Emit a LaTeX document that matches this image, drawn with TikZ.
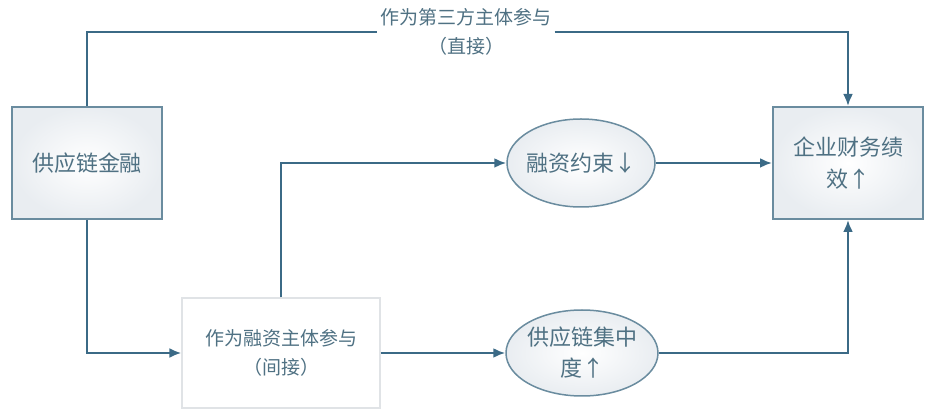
\documentclass[tikz,border=0pt]{standalone}
\usepackage{fontspec}
\setmainfont{Noto Sans CJK SC}
\usetikzlibrary{arrows.meta,shapes.geometric}
\definecolor{lineblue}{HTML}{3B6A86}
\definecolor{boxedge}{HTML}{6A8C9F}
\definecolor{txt}{HTML}{4F7183}
\definecolor{boxfill}{HTML}{E9EDF1}
\definecolor{paleedge}{HTML}{E0E3E6}
\tikzset{
  conn/.style={draw=lineblue, line width=2.3pt},
  arr/.style={conn, -{Latex[length=12pt,width=10pt]}},
  mainbox/.style={draw=boxedge, line width=2pt, inner color=white, outer color=boxfill, text=txt, align=center, font=\fontsize{22}{32}\selectfont},
  midbox/.style={draw=paleedge, line width=1.2pt, fill=white, text=txt, align=center, font=\fontsize{19}{29}\selectfont},
  oval/.style={ellipse, draw=boxedge, line width=1.5pt, inner color=white, outer color=boxfill, text=txt, align=center, font=\fontsize{22}{31}\selectfont, inner xsep=-3pt, inner ysep=0pt},
  toplabel/.style={fill=white, text=txt, align=center, inner xsep=3pt, inner ysep=0pt, font=\fontsize{19}{29}\selectfont}
}
\begin{document}
\begin{tikzpicture}[x=1pt,y=-1pt]
\useasboundingbox (0,0) rectangle (930,411);
\node[mainbox, minimum width=150pt, minimum height=112pt] (scf) at (87,163) {供应链金融};
\node[mainbox, minimum width=150pt, minimum height=112pt] (perf) at (848,163) {企业财务绩\\效↑};
\node[midbox, minimum width=198pt, minimum height=110pt] (mid) at (281,353) {作为融资主体参与\\（间接）};
\node[oval, minimum width=148pt, minimum height=88pt] (e1) at (581,163) {融资约束↓};
\node[oval, minimum width=152pt, minimum height=86pt] (e2) at (582,353) {供应链集中\\度↑};
\node[toplabel] (lbl) at (466,32) {作为第三方主体参与\\（直接）};
\draw[conn] (scf.north) |- (lbl.west);
\draw[arr] (lbl.east) -| (perf.north);
\draw[arr] (scf.south) |- (mid.west);
\draw[arr] (mid.north) |- (e1.west);
\draw[arr] (e1.east) -- (perf.west);
\draw[arr] (mid.east) -- (e2.west);
\draw[arr] (e2.east) -| (perf.south);
\end{tikzpicture}
\end{document}
